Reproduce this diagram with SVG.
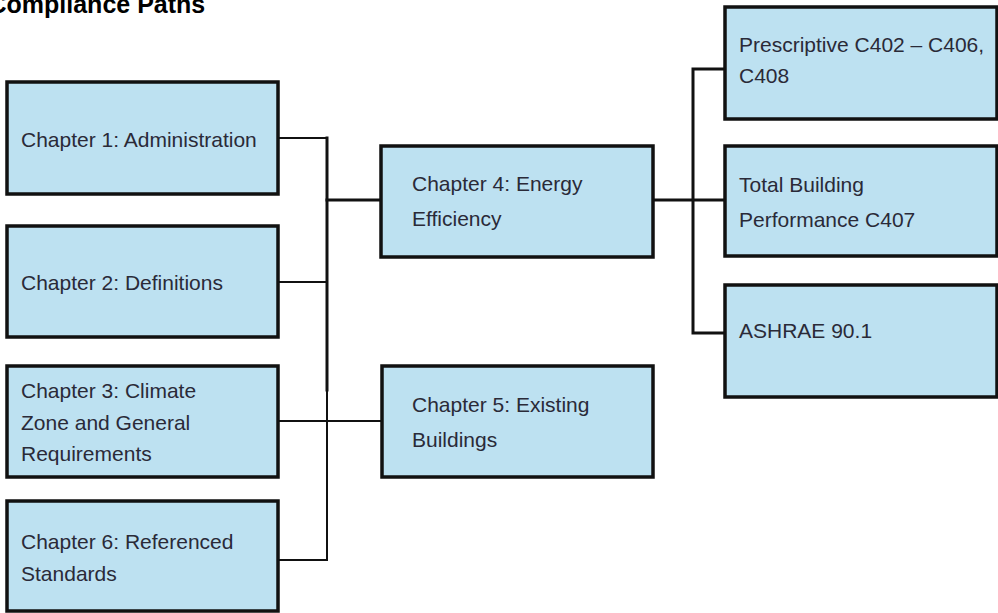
<svg xmlns="http://www.w3.org/2000/svg" width="998" height="613" viewBox="0 0 998 613">
<style>
.box{fill:#bde1f1;stroke:#111;stroke-width:3.5}
.t{font-family:"Liberation Sans",Arial,sans-serif;font-size:21px;fill:#2a2a38}
.c{fill:none;stroke:#111;stroke-linecap:square}
.thin{stroke-width:2}
.thick{stroke-width:3}
.title{font-family:"Liberation Sans",Arial,sans-serif;font-size:25px;font-weight:bold;fill:#000}
</style>
<rect width="998" height="613" fill="#fff"/>
<text class="title" x="-11.5" y="13">Compliance Paths</text>
<g id="connectors">
<path class="c thin" d="M280 138 H327"/>
<path class="c thick" d="M327 138 V390"/>
<path class="c thin" d="M327 390 V560 H280"/>
<path class="c thin" d="M280 282 H327"/>
<path class="c thin" d="M280 421 H382"/>
<path class="c thick" d="M327 200 H381"/>
<path class="c thick" d="M655 200 H725"/>
<path class="c thick" d="M725 69 H693 V333 H725"/>
</g>
<g id="ch1"><rect class="box" x="7" y="82" width="271" height="112"/><text class="t" x="21" y="147">Chapter 1: Administration</text></g>
<g id="ch2"><rect class="box" x="7" y="226" width="271" height="111"/><text class="t" x="21" y="290">Chapter 2: Definitions</text></g>
<g id="ch3"><rect class="box" x="7" y="366" width="271" height="111"/><text class="t" x="21" y="398">Chapter 3: Climate</text><text class="t" x="21" y="430">Zone and General</text><text class="t" x="21" y="461">Requirements</text></g>
<g id="ch6"><rect class="box" x="7" y="501" width="271" height="110"/><text class="t" x="21" y="549">Chapter 6: Referenced</text><text class="t" x="21" y="581">Standards</text></g>
<g id="ch4"><rect class="box" x="381" y="146" width="272" height="111"/><text class="t" x="412" y="191">Chapter 4: Energy</text><text class="t" x="412" y="226">Efficiency</text></g>
<g id="ch5"><rect class="box" x="382" y="366" width="271" height="111"/><text class="t" x="412" y="412">Chapter 5: Existing</text><text class="t" x="412" y="447">Buildings</text></g>
<g id="prescriptive"><rect class="box" x="725" y="7" width="272" height="112"/><text class="t" x="739" y="52">Prescriptive C402 – C406,</text><text class="t" x="739" y="83">C408</text></g>
<g id="total"><rect class="box" x="725" y="146" width="272" height="110"/><text class="t" x="739" y="192">Total Building</text><text class="t" x="739" y="227">Performance C407</text></g>
<g id="ashrae"><rect class="box" x="725" y="285" width="272" height="112"/><text class="t" x="739" y="338">ASHRAE 90.1</text></g>
</svg>
